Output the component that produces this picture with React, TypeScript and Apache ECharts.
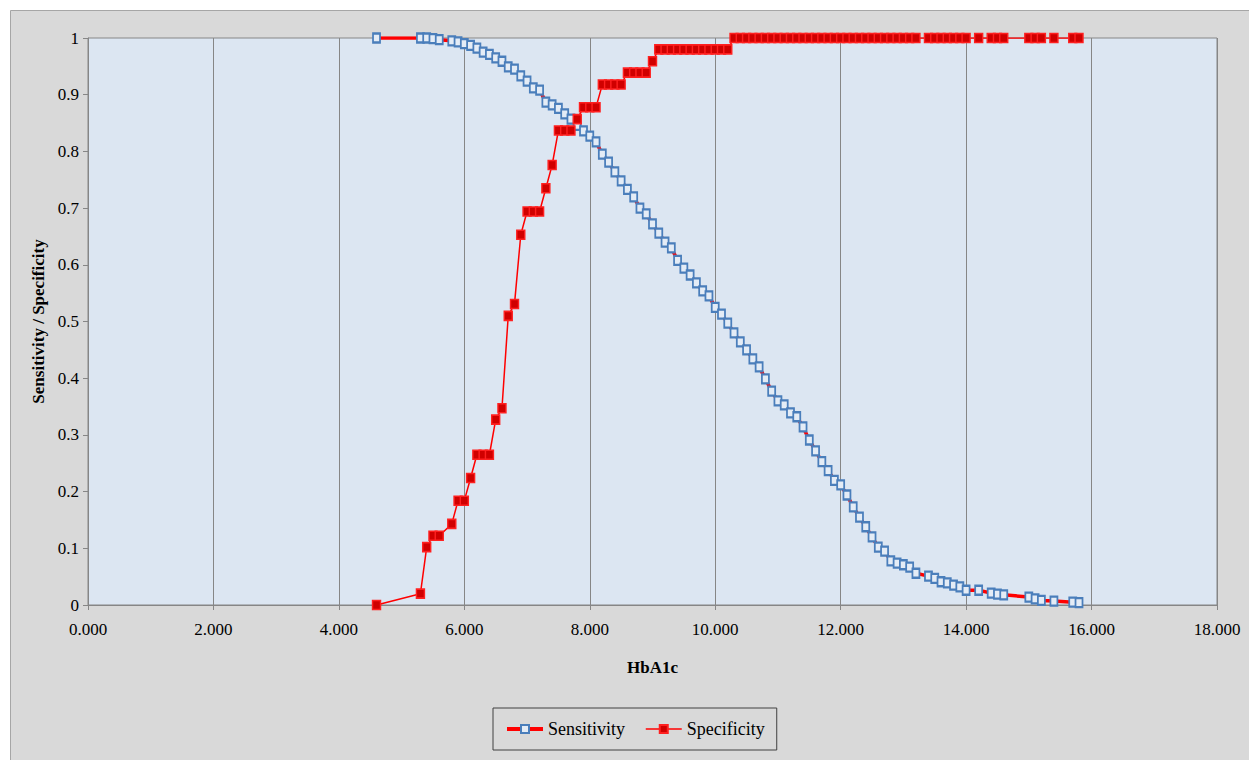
import React, { useEffect, useRef } from "react";
import * as echarts from "echarts";

// HbA1c cut-off values (x)
const hba1c = [
  4.6, 5.3, 5.4, 5.5, 5.6, 5.8, 5.9, 6.0, 6.1, 6.2, 6.3, 6.4, 6.5, 6.6, 6.7, 6.8, 6.9,
  7.0, 7.1, 7.2, 7.3, 7.4, 7.5, 7.6, 7.7, 7.8, 7.9, 8.0, 8.1, 8.2, 8.3, 8.4, 8.5, 8.6,
  8.7, 8.8, 8.9, 9.0, 9.1, 9.2, 9.3, 9.4, 9.5, 9.6, 9.7, 9.8, 9.9, 10.0, 10.1, 10.2,
  10.3, 10.4, 10.5, 10.6, 10.7, 10.8, 10.9, 11.0, 11.1, 11.2, 11.3, 11.4, 11.5, 11.6,
  11.7, 11.8, 11.9, 12.0, 12.1, 12.2, 12.3, 12.4, 12.5, 12.6, 12.7, 12.8, 12.9, 13.0,
  13.1, 13.2, 13.4, 13.5, 13.6, 13.7, 13.8, 13.9, 14.0, 14.2, 14.4, 14.5, 14.6, 15.0,
  15.1, 15.2, 15.4, 15.7, 15.8,
];

const sensitivity = [
  1.0, 1.0, 1.0, 0.999, 0.997, 0.995, 0.993, 0.99, 0.987, 0.982, 0.975, 0.971, 0.965,
  0.959, 0.949, 0.945, 0.933, 0.924, 0.912, 0.908, 0.887, 0.882, 0.876, 0.866, 0.857,
  0.846, 0.836, 0.827, 0.817, 0.795, 0.781, 0.764, 0.748, 0.733, 0.72, 0.7, 0.69, 0.672,
  0.656, 0.64, 0.63, 0.608, 0.594, 0.582, 0.568, 0.554, 0.545, 0.525, 0.513, 0.497,
  0.48, 0.464, 0.45, 0.434, 0.42, 0.399, 0.377, 0.36, 0.353, 0.339, 0.332, 0.314, 0.291,
  0.272, 0.253, 0.237, 0.22, 0.212, 0.194, 0.173, 0.155, 0.138, 0.12, 0.102, 0.095,
  0.078, 0.074, 0.071, 0.067, 0.056, 0.051, 0.047, 0.041, 0.039, 0.035, 0.032, 0.026,
  0.026, 0.021, 0.019, 0.018, 0.014, 0.011, 0.008, 0.007, 0.005, 0.004,
];

const specificity = [
  0.0, 0.02, 0.102, 0.122, 0.122, 0.143, 0.184, 0.184, 0.224, 0.265, 0.265, 0.265,
  0.327, 0.347, 0.51, 0.531, 0.653, 0.694, 0.694, 0.694, 0.735, 0.776, 0.837, 0.837,
  0.837, 0.857, 0.878, 0.878, 0.878, 0.918, 0.918, 0.918, 0.918, 0.939, 0.939, 0.939,
  0.939, 0.959, 0.98, 0.98, 0.98, 0.98, 0.98, 0.98, 0.98, 0.98, 0.98, 0.98, 0.98, 0.98,
  1, 1, 1, 1, 1, 1, 1, 1, 1, 1, 1, 1, 1, 1, 1, 1, 1, 1, 1, 1, 1, 1, 1, 1, 1, 1, 1, 1, 1, 1,
  1, 1, 1, 1, 1, 1, 1, 1, 1, 1, 1, 1, 1, 1, 1, 1, 1,
];

const xTicks = { min: 0, max: 18, interval: 2 };
const yTicks = { min: 0, max: 1, interval: 0.1 };

const FONT = "'Liberation Serif', 'Times New Roman', serif";

export default function App() {
  const ref = useRef<HTMLDivElement>(null);

  useEffect(() => {
    if (!ref.current) return;
    const chart = echarts.init(ref.current, undefined, { renderer: "svg" });
    const sensData = hba1c.map((x, i) => [x, sensitivity[i]]);
    const specData = hba1c.map((x, i) => [x, specificity[i]]);
    chart.setOption({
      animation: false,
      textStyle: { fontFamily: FONT },
      graphic: [
        {
          type: "rect",
          z: -10,
          silent: true,
          shape: { x: 10.5, y: 10.5, width: 1260, height: 780 },
          style: { fill: "#d9d9d9", stroke: "#a6a6a6", lineWidth: 1 },
        },
      ],
      grid: {
        left: 88,
        right: 32,
        top: 38,
        bottom: 155,
        show: true,
        backgroundColor: "#dce6f2",
        borderColor: "#868686",
        borderWidth: 1,
      },
      legend: {
        left: 493,
        top: 708,
        orient: "horizontal",
        itemWidth: 36,
        itemHeight: 10,
        itemGap: 20,
        padding: [12, 12, 12, 12],
        borderColor: "#404040",
        borderWidth: 1,
        backgroundColor: "#d9d9d9",
        textStyle: { fontFamily: FONT, fontSize: 18, color: "#000" },
        data: [
          { name: "Sensitivity", lineStyle: { width: 4, color: "#ff0000" } },
          { name: "Specificity", lineStyle: { width: 1.5, color: "#ff0000" } },
        ],
      },
      xAxis: {
        type: "value",
        min: xTicks.min,
        max: xTicks.max,
        interval: xTicks.interval,
        name: "HbA1c",
        nameLocation: "middle",
        nameGap: 54,
        nameTextStyle: { fontFamily: FONT, fontSize: 17, fontWeight: "bold", color: "#000" },
        axisLine: { show: true, lineStyle: { color: "#868686", width: 1 } },
        axisTick: { show: true, inside: false, length: 5, lineStyle: { color: "#868686" } },
        axisLabel: {
          fontFamily: FONT,
          fontSize: 17,
          color: "#000",
          margin: 16,
          formatter: (v: number) => v.toFixed(3),
        },
        splitLine: { show: true, lineStyle: { color: "#868686", width: 1 } },
      },
      yAxis: {
        type: "value",
        min: yTicks.min,
        max: yTicks.max,
        interval: yTicks.interval,
        name: "Sensitivity / Specificity",
        nameLocation: "middle",
        nameGap: 40,
        nameTextStyle: { fontFamily: FONT, fontSize: 17, fontWeight: "bold", color: "#000" },
        axisLine: { show: true, lineStyle: { color: "#868686", width: 1 } },
        axisTick: { show: true, inside: false, length: 5, lineStyle: { color: "#868686" } },
        axisLabel: {
          fontFamily: FONT,
          fontSize: 17,
          color: "#000",
          margin: 9,
          formatter: (v: number) => String(parseFloat(v.toFixed(1))),
        },
        splitLine: { show: false },
      },
      series: [
        {
          name: "Sensitivity",
          type: "line",
          data: sensData,
          symbol: "rect",
          symbolSize: [7, 9],
          showAllSymbol: true,
          lineStyle: { color: "#ff0000", width: 3.5 },
          itemStyle: { color: "#e4ecf6", borderColor: "#4a7ebb", borderWidth: 2 },
        },
        {
          name: "Specificity",
          type: "line",
          data: specData,
          symbol: "rect",
          symbolSize: [8, 9],
          showAllSymbol: true,
          lineStyle: { color: "#ff0000", width: 1.5 },
          itemStyle: { color: "#d00000", borderColor: "#ff2020", borderWidth: 1.5 },
        },
      ],
    });
    return () => chart.dispose();
  }, []);

  return (
    <div
      ref={ref}
      style={{ position: "fixed", left: 0, top: 0, width: 1249, height: 760, background: "#ffffff" }}
    />
  );
}
